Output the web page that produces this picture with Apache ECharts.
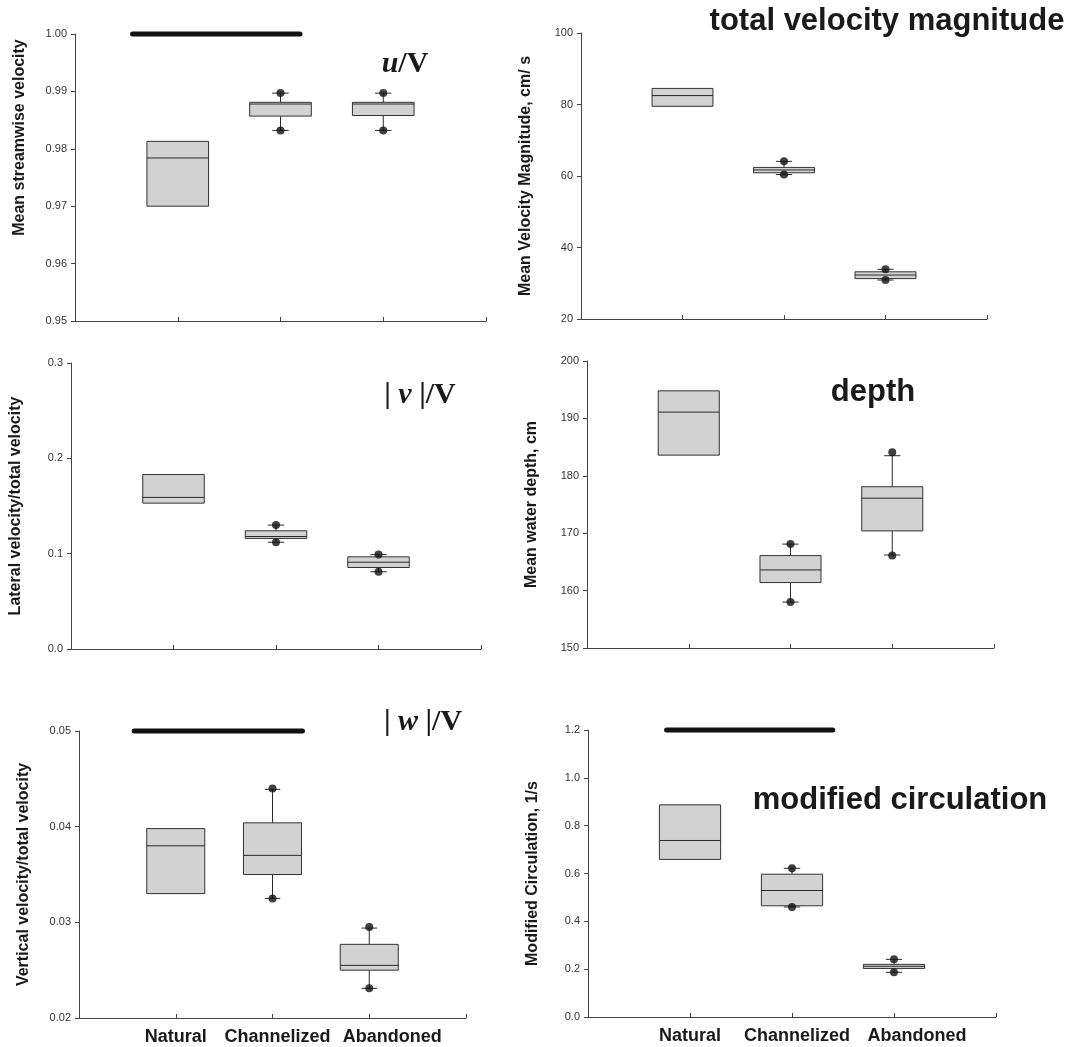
<!DOCTYPE html>
<html>
<head>
<meta charset="utf-8">
<script src="https://cdn.jsdelivr.net/npm/echarts@6/dist/echarts.min.js"></script>
<style>
  html, body { margin: 0; background: #fff; }
  #chart { width: 1073px; height: 1047px; }
</style>
</head>
<body>
<div id="chart"></div>
<script>
var categories = ['Natural', 'Channelized', 'Abandoned'];
var catPos = [1, 2, 3];

// u/V  (streamwise)
var uQ1  = [0.9700, 0.9857, 0.9858];
var uMed = [0.9784, 0.9878, 0.9878];
var uQ3  = [0.9813, 0.9881, 0.9881];
var uLo  = [null, 0.9832, 0.9832];
var uHi  = [null, 0.9897, 0.9897];
var uTicks = [0.95, 1.00, 0.01];

// total velocity magnitude, cm/s
var tQ1  = [79.5, 60.9, 31.3];
var tMed = [82.5, 61.7, 32.3];
var tQ3  = [84.5, 62.4, 33.2];
var tLo  = [null, 60.4, 30.9];
var tHi  = [null, 64.1, 33.9];
var tTicks = [20, 100, 20];

// |v|/V  (lateral)
var vQ1  = [0.153, 0.116, 0.0855];
var vMed = [0.159, 0.118, 0.091];
var vQ3  = [0.183, 0.124, 0.0967];
var vLo  = [null, 0.112, 0.081];
var vHi  = [null, 0.130, 0.099];
var vTicks = [0, 0.3, 0.1];

// depth, cm
var dQ1  = [183.6, 161.4, 170.4];
var dMed = [191.1, 163.6, 176.1];
var dQ3  = [194.8, 166.1, 178.1];
var dLo  = [null, 158.0, 166.2];
var dHi  = [null, 168.1, 183.5];
var dDotLo = [null, 158.0, 166.1];
var dDotHi = [null, 168.1, 184.1];
var dTicks = [150, 200, 10];

// |w|/V  (vertical)
var wQ1  = [0.0330, 0.0350, 0.0250];
var wMed = [0.0380, 0.0370, 0.0255];
var wQ3  = [0.0398, 0.0404, 0.0277];
var wLo  = [null, 0.0325, 0.0231];
var wHi  = [null, 0.0439, 0.0294];
var wDotHi = [null, 0.0440, 0.0295];
var wTicks = [0.02, 0.05, 0.01];

// modified circulation, 1/s
var cQ1  = [0.659, 0.465, 0.203];
var cMed = [0.738, 0.529, 0.212];
var cQ3  = [0.887, 0.597, 0.220];
var cLo  = [null, 0.460, 0.187];
var cHi  = [null, 0.622, 0.241];
var cTicks = [0, 1.2, 0.2];

// thick bars at top of panels (x from, x to)
var uBar = [0.56, 2.19];
var wBar = [0.57, 2.31];
var cBar = [0.77, 2.40];

var FONT = 'Liberation Sans';

var panels = [
  { q1: uQ1, med: uMed, q3: uQ3, lo: uLo, hi: uHi, dotLo: uLo, dotHi: uHi, ticks: uTicks, dec: 2, bar: uBar,
    name: 'Mean streamwise velocity', namePad: [0, 0, 0, 80],
    grid: { left: 75, top: 34, width: 411, height: 287 }, xLabels: false },
  { q1: tQ1, med: tMed, q3: tQ3, lo: tLo, hi: tHi, dotLo: tLo, dotHi: tHi, ticks: tTicks, dec: 0,
    name: 'Mean Velocity Magnitude, cm/ s',
    grid: { left: 581, top: 33, width: 406, height: 286 }, xLabels: false },
  { q1: vQ1, med: vMed, q3: vQ3, lo: vLo, hi: vHi, dotLo: vLo, dotHi: vHi, ticks: vTicks, dec: 1,
    name: 'Lateral velocity/total velocity',
    grid: { left: 71, top: 363, width: 410, height: 286 }, xLabels: false },
  { q1: dQ1, med: dMed, q3: dQ3, lo: dLo, hi: dHi, dotLo: dDotLo, dotHi: dDotHi, ticks: dTicks, dec: 0,
    name: 'Mean water depth, cm',
    grid: { left: 587, top: 361, width: 407, height: 287 }, xLabels: false },
  { q1: wQ1, med: wMed, q3: wQ3, lo: wLo, hi: wHi, dotLo: wLo, dotHi: wDotHi, ticks: wTicks, dec: 2, bar: wBar,
    name: 'Vertical velocity/total velocity',
    grid: { left: 79, top: 731, width: 387, height: 287 }, xLabels: true },
  { q1: cQ1, med: cMed, q3: cQ3, lo: cLo, hi: cHi, dotLo: cLo, dotHi: cHi, ticks: cTicks, dec: 1, bar: cBar,
    name: 'Modified Circulation, 1/s',
    grid: { left: 588, top: 730, width: 408, height: 287 }, xLabels: true }
];

function boxRenderer(p) {
  return function (params, api) {
    var i = params.dataIndex;
    var x = api.value(0);
    var half = 0.3, cap = 0.08;
    var line = { stroke: '#2a2a2a', lineWidth: 1 };
    var tl = api.coord([x - half, api.value(3)]);
    var br = api.coord([x + half, api.value(1)]);
    var m0 = api.coord([x - half, api.value(2)]);
    var m1 = api.coord([x + half, api.value(2)]);
    var kids = [];
    if (p.lo[i] != null) {
      var a = api.coord([x, p.q1[i]]), b = api.coord([x, p.lo[i]]);
      var c0 = api.coord([x - cap, p.lo[i]]), c1 = api.coord([x + cap, p.lo[i]]);
      kids.push({ type: 'line', shape: { x1: a[0], y1: a[1], x2: b[0], y2: b[1] }, style: line });
      kids.push({ type: 'line', shape: { x1: c0[0], y1: c0[1], x2: c1[0], y2: c1[1] }, style: line });
    }
    if (p.hi[i] != null) {
      var a2 = api.coord([x, p.q3[i]]), b2 = api.coord([x, p.hi[i]]);
      var d0 = api.coord([x - cap, p.hi[i]]), d1 = api.coord([x + cap, p.hi[i]]);
      kids.push({ type: 'line', shape: { x1: a2[0], y1: a2[1], x2: b2[0], y2: b2[1] }, style: line });
      kids.push({ type: 'line', shape: { x1: d0[0], y1: d0[1], x2: d1[0], y2: d1[1] }, style: line });
    }
    kids.push({ type: 'rect',
      shape: { x: tl[0], y: tl[1], width: br[0] - tl[0], height: br[1] - tl[1] },
      style: { fill: '#d2d2d2', stroke: '#333', lineWidth: 1 } });
    kids.push({ type: 'line', shape: { x1: m0[0], y1: m0[1], x2: m1[0], y2: m1[1] }, style: line });
    return { type: 'group', children: kids };
  };
}

var grids = [], xAxes = [], yAxes = [], series = [];

panels.forEach(function (p, k) {
  grids.push(p.grid);
  xAxes.push({
    type: 'value', gridIndex: k, min: 0, max: 4, interval: 1,
    axisLine: { lineStyle: { color: '#444', width: 1 } },
    axisTick: { inside: true, length: 4, lineStyle: { color: '#444' } },
    splitLine: { show: false },
    axisLabel: {
      show: p.xLabels, margin: 10,
      formatter: function (v) {
        var i = v - 1;
        return (i >= 0 && i < 3) ? '{c' + i + '|' + categories[i] + '}' : '';
      },
      rich: {
        c0: { fontFamily: FONT, fontWeight: 'bold', fontSize: 18, color: '#1a1a1a' },
        c1: { fontFamily: FONT, fontWeight: 'bold', fontSize: 18, color: '#1a1a1a', padding: [0, 0, 0, 10] },
        c2: { fontFamily: FONT, fontWeight: 'bold', fontSize: 18, color: '#1a1a1a', padding: [0, 0, 0, 46] }
      }
    }
  });
  yAxes.push({
    type: 'value', gridIndex: k, min: p.ticks[0], max: p.ticks[1], interval: p.ticks[2],
    name: p.name, nameLocation: 'middle', nameGap: 47,
    nameTextStyle: { fontFamily: FONT, fontWeight: 'bold', fontSize: 16, color: '#1a1a1a', padding: p.namePad || 0 },
    axisLine: { show: true, lineStyle: { color: '#444', width: 1 } },
    axisTick: { show: true, length: 4, lineStyle: { color: '#444' } },
    splitLine: { show: false },
    axisLabel: {
      fontFamily: FONT, fontSize: 11, color: '#333', margin: 8,
      formatter: function (v) { return v.toFixed(p.dec); }
    }
  });
  series.push({
    type: 'custom', xAxisIndex: k, yAxisIndex: k,
    renderItem: boxRenderer(p),
    encode: { x: 0, y: [1, 2, 3] },
    data: catPos.map(function (x, i) { return [x, p.q1[i], p.med[i], p.q3[i]]; }),
    z: 2
  });
  var dots = [];
  catPos.forEach(function (x, i) {
    if (p.dotLo[i] != null) dots.push([x, p.dotLo[i]]);
    if (p.dotHi[i] != null) dots.push([x, p.dotHi[i]]);
  });
  series.push({
    type: 'scatter', xAxisIndex: k, yAxisIndex: k, data: dots,
    symbol: 'circle', symbolSize: 8, itemStyle: { color: '#111' }, z: 3
  });
  if (p.bar) {
    series.push({
      type: 'line', xAxisIndex: k, yAxisIndex: k, clip: false,
      data: [[p.bar[0], p.ticks[1]], [p.bar[1], p.ticks[1]]],
      symbol: 'none', lineStyle: { color: '#111', width: 5, cap: 'round' }, z: 4
    });
  }
});

var chart = echarts.init(document.getElementById('chart'));
chart.setOption({
  backgroundColor: '#fff',
  animation: false,
  grid: grids,
  xAxis: xAxes,
  yAxis: yAxes,
  series: series,
  graphic: [
    { type: 'text', style: { text: 'total velocity magnitude', x: 887, y: 21, align: 'center', verticalAlign: 'middle',
        font: 'bold 31px "Liberation Sans"', fill: '#1a1a1a' } },
    { type: 'text', style: { text: 'depth', x: 873, y: 392, align: 'center', verticalAlign: 'middle',
        font: 'bold 31px "Liberation Sans"', fill: '#1a1a1a' } },
    { type: 'text', style: { text: 'modified circulation', x: 900, y: 800, align: 'center', verticalAlign: 'middle',
        font: 'bold 31px "Liberation Sans"', fill: '#1a1a1a' } },
    { type: 'text', style: { text: '{i|u}{n|/V}', x: 405, y: 64, align: 'center', verticalAlign: 'middle',
        rich: { i: { font: 'italic bold 30px "Liberation Serif"', fill: '#1a1a1a' },
                n: { font: 'bold 30px "Liberation Serif"', fill: '#1a1a1a' } } } },
    { type: 'text', style: { text: '{n|| }{i|v}{n| |/V}', x: 420, y: 395, align: 'center', verticalAlign: 'middle',
        rich: { i: { font: 'italic bold 30px "Liberation Serif"', fill: '#1a1a1a' },
                n: { font: 'bold 30px "Liberation Serif"', fill: '#1a1a1a' } } } },
    { type: 'text', style: { text: '{n|| }{i|w}{n| |/V}', x: 423, y: 722, align: 'center', verticalAlign: 'middle',
        rich: { i: { font: 'italic bold 30px "Liberation Serif"', fill: '#1a1a1a' },
                n: { font: 'bold 30px "Liberation Serif"', fill: '#1a1a1a' } } } }
  ]
});
</script>
</body>
</html>
